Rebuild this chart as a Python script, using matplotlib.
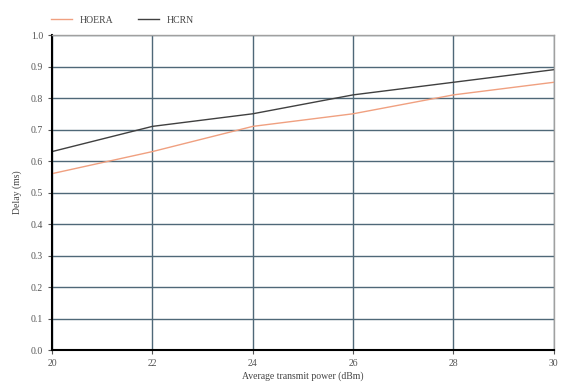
import matplotlib
matplotlib.use("Agg")
import matplotlib.pyplot as plt

power = [20, 22, 24, 26, 28, 30]
hoera = [0.56, 0.63, 0.71, 0.75, 0.81, 0.85]
hcrn = [0.63, 0.71, 0.75, 0.81, 0.85, 0.89]

plt.rcParams['font.family'] = ['Liberation Serif', 'DejaVu Serif']

fig = plt.figure(figsize=(5.69, 3.89), dpi=100)
ax = fig.add_axes([0.0914, 0.100, 0.882, 0.810])

ax.plot(power, hoera, color='#f0a080', linewidth=1.0, label='HOERA')
ax.plot(power, hcrn, color='#404040', linewidth=1.0, label='HCRN')

ax.set_xlim(20, 30)
ax.set_ylim(0, 1.0)
ax.set_xticks(power)
ax.set_yticks([i / 10 for i in range(11)])
ax.set_yticklabels(['%.1f' % (i / 10) for i in range(11)])
ax.grid(True, color='#4f6878', linewidth=1.0)
ax.set_axisbelow(True)

for s in ['top', 'right']:
    ax.spines[s].set_color('#a0a0a0')
    ax.spines[s].set_linewidth(1.0)
for s in ['left', 'bottom']:
    ax.spines[s].set_color('black')
    ax.spines[s].set_linewidth(1.5)

ax.tick_params(labelsize=7, colors='#555555', length=3)
ax.set_xlabel('Average transmit power (dBm)', fontsize=7, color='#444444', labelpad=2)
ax.set_ylabel('Delay (ms)', fontsize=7, color='#444444', labelpad=6)

ax.legend(loc='lower left', bbox_to_anchor=(-0.02, 1.005), ncol=2, frameon=False,
          fontsize=7, handlelength=2.2, columnspacing=2.5, labelcolor='#444444')

fig.savefig('out.png', dpi=100)
